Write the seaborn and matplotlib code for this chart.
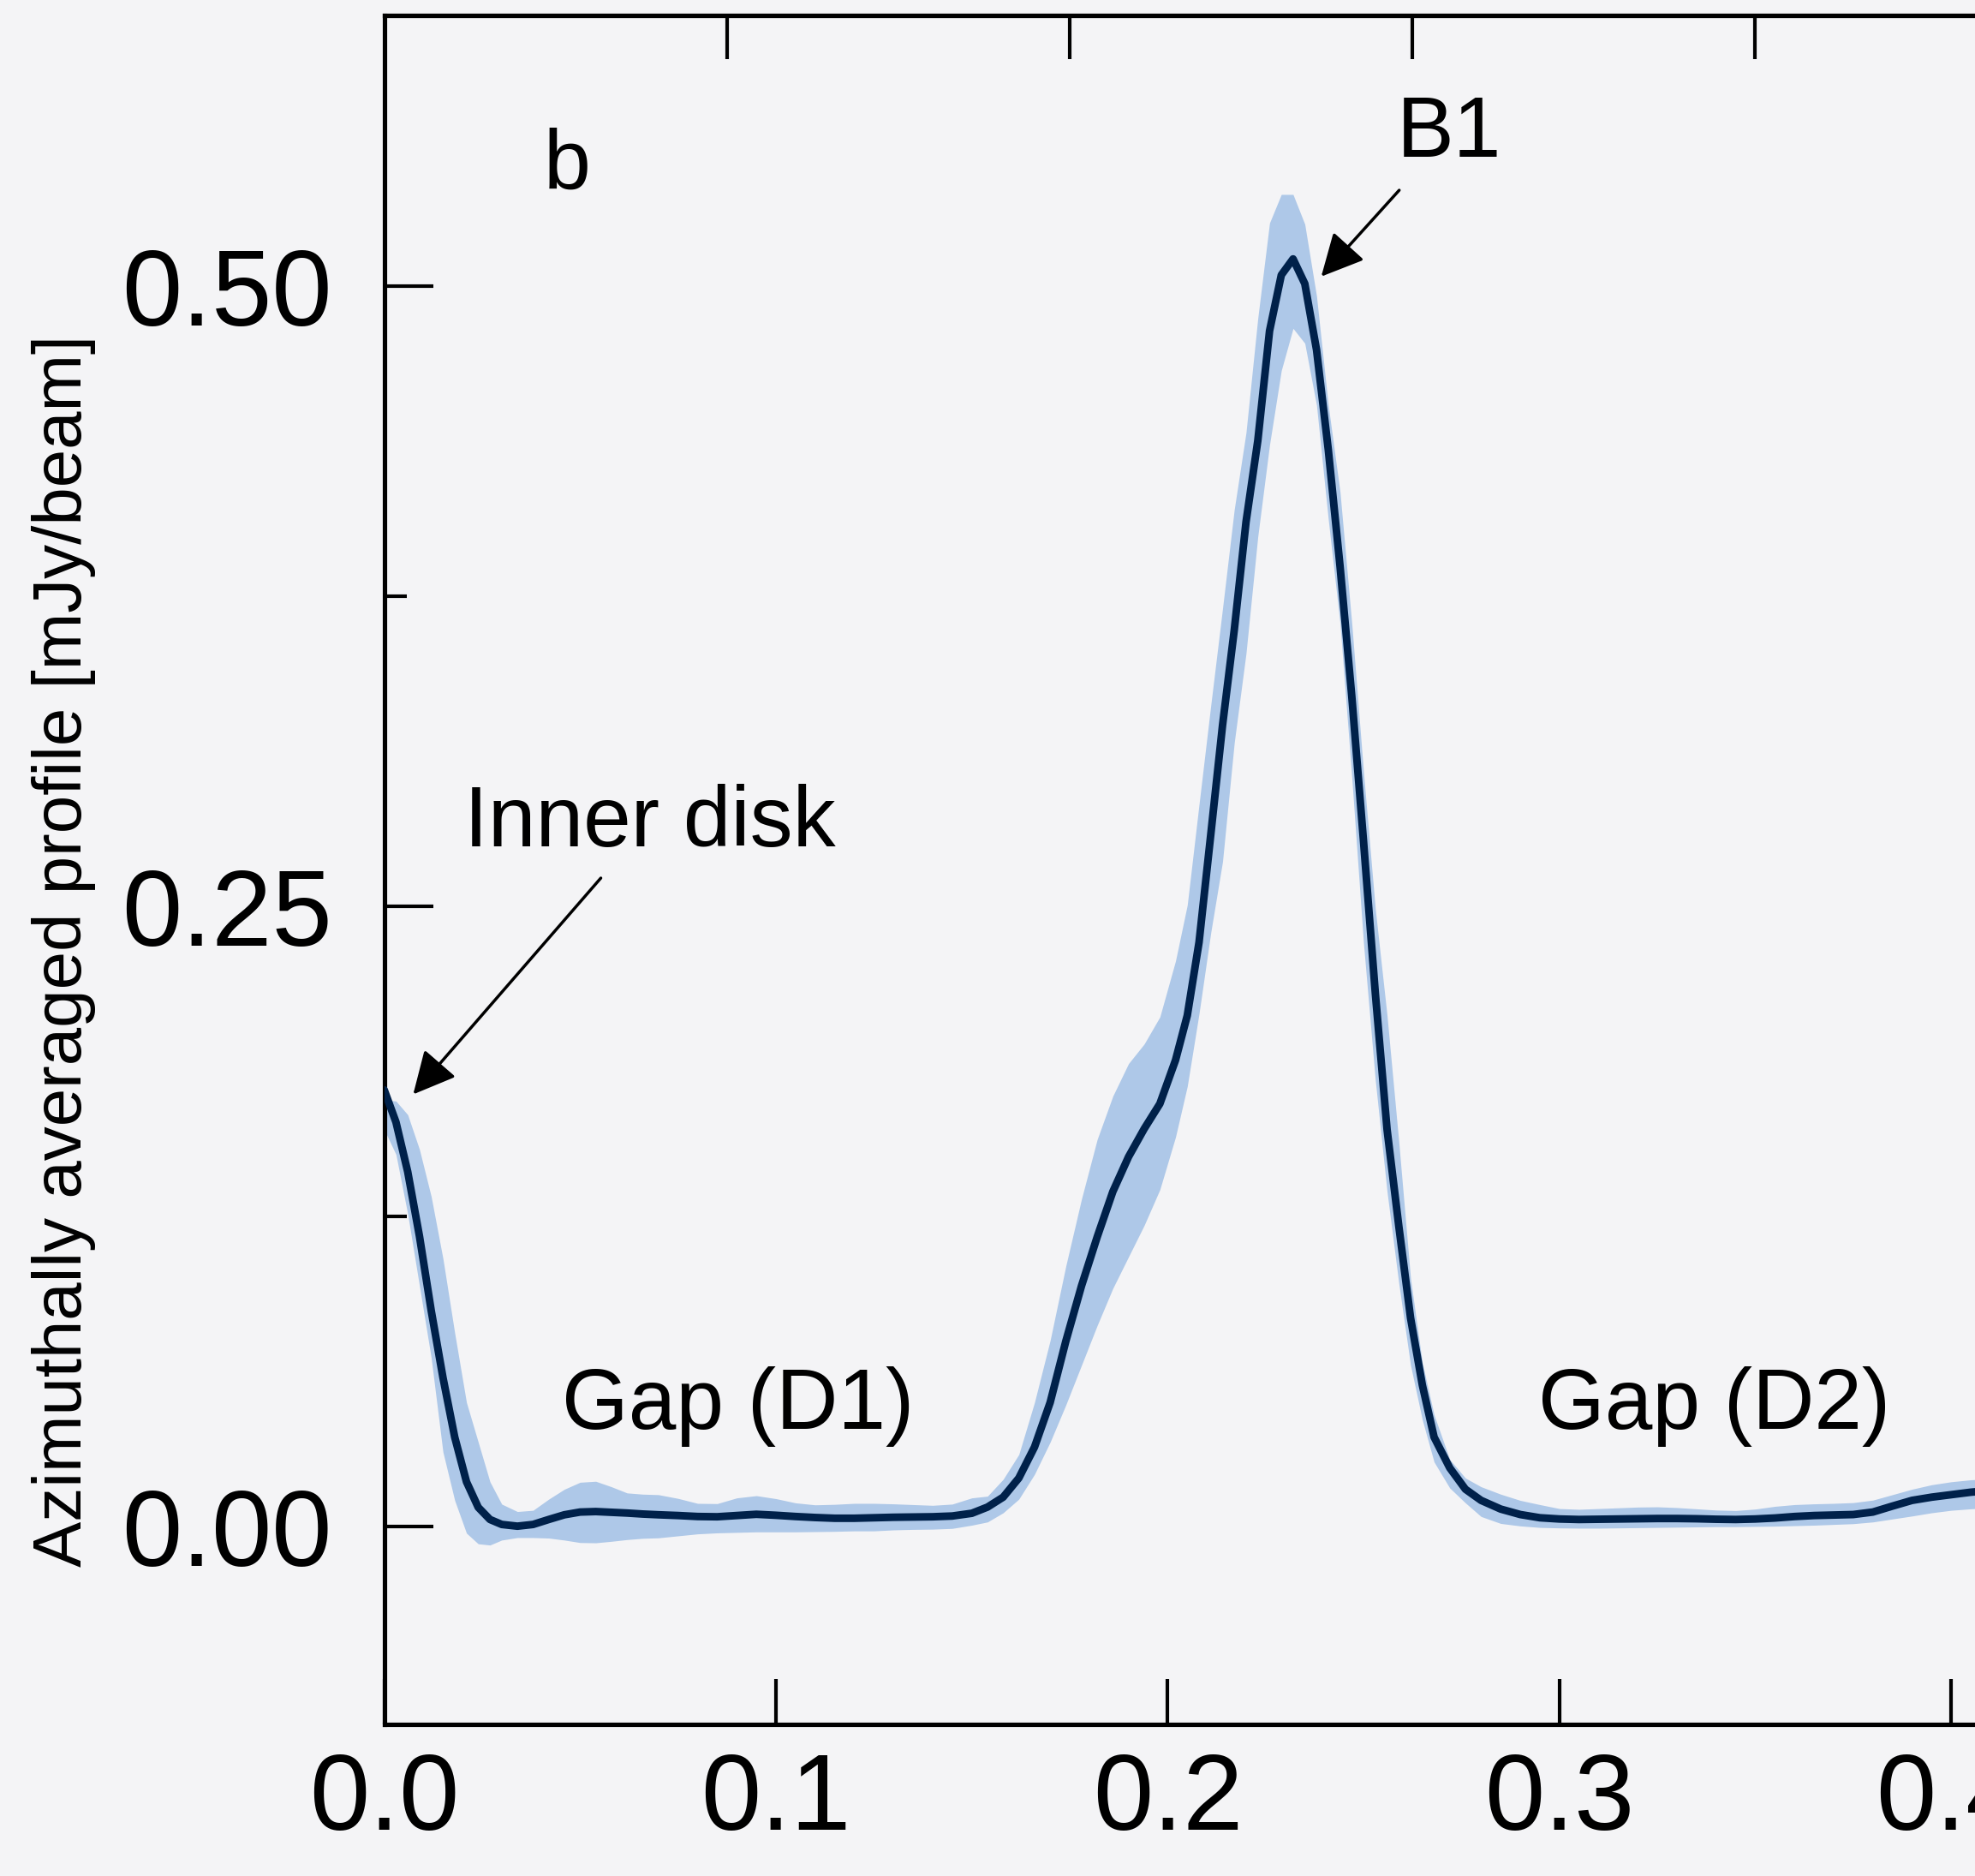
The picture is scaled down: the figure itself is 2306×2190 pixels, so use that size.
import matplotlib
matplotlib.use("Agg")
import matplotlib.pyplot as plt
from matplotlib.ticker import FixedLocator
import numpy as np
import pandas as pd
import seaborn as sns

# ---------------- data ----------------
radius = [
    0.000, 0.003, 0.006, 0.009, 0.012, 0.015, 0.018, 0.021, 0.024, 0.027, 0.030, 0.034, 0.038,
    0.042, 0.046, 0.050, 0.054, 0.058, 0.062, 0.066, 0.070, 0.075, 0.080, 0.085, 0.090, 0.095,
    0.100, 0.105, 0.110, 0.115, 0.120, 0.125, 0.130, 0.135, 0.140, 0.145, 0.150,
    0.154, 0.158, 0.162, 0.166, 0.170, 0.174, 0.178, 0.182, 0.186, 0.190, 0.194, 0.198, 0.202,
    0.205, 0.208, 0.211, 0.214, 0.217, 0.220, 0.223, 0.226, 0.229, 0.232, 0.235, 0.238, 0.241,
    0.244, 0.247, 0.250, 0.253, 0.256, 0.259, 0.262, 0.265, 0.268, 0.272, 0.276, 0.280, 0.285,
    0.290, 0.295, 0.300,
    0.305, 0.310, 0.315, 0.320, 0.325, 0.330, 0.335, 0.340, 0.345, 0.350, 0.355, 0.360, 0.365,
    0.370, 0.375, 0.380, 0.385, 0.390, 0.395, 0.400, 0.405, 0.410,
]

mean_profile = [
    0.176, 0.163, 0.143, 0.117, 0.087, 0.060, 0.036, 0.018, 0.0077, 0.0028, 0.0008, 0.0001, 0.0008,
    0.0028, 0.0047, 0.0058, 0.0060, 0.0057, 0.0054, 0.0050, 0.0047, 0.0044, 0.0040, 0.0039, 0.0044, 0.0049,
    0.0045, 0.0040, 0.0036, 0.0033, 0.0033, 0.0035, 0.0037, 0.0038, 0.0039, 0.0042, 0.0053,
    0.0078, 0.0118, 0.0195, 0.032, 0.050, 0.0747, 0.097, 0.1167, 0.135, 0.149, 0.1603, 0.1704, 0.188,
    0.206, 0.2355, 0.279, 0.323, 0.3615, 0.405, 0.4377, 0.482, 0.5045, 0.511, 0.501, 0.4743, 0.434,
    0.387, 0.3345, 0.276, 0.215, 0.160, 0.121, 0.084, 0.057, 0.036, 0.0236, 0.015, 0.0105, 0.007,
    0.0048, 0.0035, 0.0030,
    0.0028, 0.0029, 0.0030, 0.0031, 0.0032, 0.0032, 0.0031, 0.0029, 0.0028, 0.0030, 0.0034, 0.0040, 0.0044,
    0.0046, 0.0048, 0.0058, 0.0082, 0.0105, 0.0118, 0.0128, 0.0138, 0.0145,
]

upper_profile = [
    0.172, 0.1715, 0.166, 0.152, 0.133, 0.108, 0.078, 0.050, 0.034, 0.018, 0.009, 0.006, 0.0065,
    0.011, 0.015, 0.0178, 0.0182, 0.016, 0.0135, 0.013, 0.0128, 0.0113, 0.0093, 0.0092, 0.0115, 0.0124,
    0.0112, 0.0095, 0.0087, 0.0089, 0.0093, 0.0093, 0.0091, 0.0088, 0.0085, 0.0090, 0.0115,
    0.0122, 0.019, 0.029, 0.050, 0.075, 0.105, 0.132, 0.156, 0.1735, 0.1866, 0.1945, 0.2054, 0.228,
    0.2505, 0.291, 0.331, 0.370, 0.410, 0.441, 0.487, 0.5255, 0.537, 0.537, 0.525, 0.496, 0.452,
    0.417, 0.364, 0.304, 0.249, 0.206, 0.155, 0.100, 0.066, 0.045, 0.027, 0.0195, 0.016, 0.013,
    0.0105, 0.0088, 0.0072,
    0.0069, 0.0072, 0.0075, 0.0078, 0.0079, 0.0076, 0.0071, 0.0066, 0.0064, 0.0070, 0.0081, 0.0088, 0.0091,
    0.0093, 0.0096, 0.0106, 0.0128, 0.0150, 0.0168, 0.0180, 0.0188, 0.0192,
]

lower_profile = [
    0.160, 0.150, 0.126, 0.097, 0.068, 0.030, 0.0105, -0.0027, -0.007, -0.0075, -0.0055, -0.0045, -0.0045,
    -0.0047, -0.0055, -0.0065, -0.0066, -0.0060, -0.0053, -0.0048, -0.0046, -0.0038, -0.0030, -0.0026, -0.0024, -0.0022,
    -0.0022, -0.0022, -0.0021, -0.0020, -0.0018, -0.0018, -0.0014, -0.0012, -0.0011, -0.0008, 0.0005,
    0.0018, 0.0055, 0.011, 0.021, 0.034, 0.049, 0.065, 0.081, 0.096, 0.1087, 0.1214, 0.1358, 0.157,
    0.1774, 0.2067, 0.2394, 0.268, 0.316, 0.352, 0.399, 0.436, 0.466, 0.483, 0.477, 0.452, 0.406,
    0.364, 0.302, 0.235, 0.180, 0.135, 0.098, 0.065, 0.043, 0.026, 0.0155, 0.0095, 0.004, 0.0012,
    0.0002, -0.0004, -0.0006,
    -0.0007, -0.0007, -0.0006, -0.0005, -0.0004, -0.0003, -0.0002, -0.0001, -0.0001, 0.0000, 0.0001, 0.0003, 0.0005,
    0.0008, 0.0011, 0.0018, 0.0030, 0.0042, 0.0055, 0.0065, 0.0071, 0.0075,
]

x_ticks = [0.0, 0.1, 0.2, 0.3, 0.4]
x_tick_labels = ["0.0", "0.1", "0.2", "0.3", "0.4"]
y_ticks = [0.0, 0.25, 0.5]
y_tick_labels = ["0.00", "0.25", "0.50"]
y_minor_ticks = [0.125, 0.375]
au_ticks = [10, 20, 30, 40]
AU_PER_ARCSEC = 114.3

y_label = "Azimuthally averaged profile [mJy/beam]"
panel_label = "b"
region_labels = ["Inner disk", "B1", "Gap (D1)", "Gap (D2)"]
region_label_x = [0.0679, 0.2718, 0.0904, 0.3395]
region_label_y = [0.2742, 0.5521, 0.0394, 0.0394]
arrow_tails = [(0.0553, 0.2614), (0.2591, 0.5387)]
arrow_tips = [(0.0074, 0.1742), (0.2392, 0.5039)]

# ---------------- style ----------------
BG = "#f4f4f6"
FILL = "#aec8e8"
LINE = "#00214a"

sns.set_theme(style="ticks")
plt.rcParams["font.family"] = ["Liberation Sans", "DejaVu Sans"]
plt.rcParams["axes.facecolor"] = BG
plt.rcParams["figure.facecolor"] = BG

W, H = 2306, 2190
fig = plt.figure(figsize=(W / 100, H / 100), dpi=100)
fig.patch.set_facecolor(BG)

ax_left_px, px_per_unit = 448.6, 4574.0
ax_bottom_px, ax_top_px = 2013.0, 17.6
xmax = 0.45
ax = fig.add_axes([ax_left_px / W, (H - ax_bottom_px) / H,
                   xmax * px_per_unit / W, (ax_bottom_px - ax_top_px) / H])
ax.set_facecolor(BG)

df = pd.DataFrame({"radius": radius, "mean": mean_profile,
                   "lo": lower_profile, "hi": upper_profile})

ax.fill_between(df["radius"], df["lo"], df["hi"], color=FILL, linewidth=0, zorder=1)
sns.lineplot(data=df, x="radius", y="mean", ax=ax, color=LINE, linewidth=6.4,
             estimator=None, sort=False, zorder=3)

ax.set_xlim(0, xmax)
ax.set_ylim(-0.0798, 0.6093)
ax.set_xlabel("")
ax.set_ylabel("")

ax.set_xticks(x_ticks)
ax.set_xticklabels(x_tick_labels)
ax.set_yticks(y_ticks)
ax.set_yticklabels(y_tick_labels)
ax.yaxis.set_minor_locator(FixedLocator(y_minor_ticks))

for s in ["left", "bottom", "top", "right"]:
    ax.spines[s].set_linewidth(3.7)
    ax.spines[s].set_color("black")

ax.tick_params(axis="x", which="major", direction="in", length=38, width=3.0,
               labelsize=91, pad=22, top=False, bottom=True, colors="black")
ax.tick_params(axis="y", which="major", direction="in", length=41, width=3.0,
               labelsize=91, pad=44, right=False, left=True, colors="black")
ax.tick_params(axis="y", which="minor", direction="in", length=18.5, width=3.0,
               right=False, left=True, colors="black")

sec = ax.secondary_xaxis("top", functions=(lambda x: x * AU_PER_ARCSEC,
                                           lambda a: a / AU_PER_ARCSEC))
sec.set_xticks(au_ticks)
sec.tick_params(axis="x", direction="in", length=37, width=3.0, labeltop=False,
                colors="black")
sec.spines["top"].set_linewidth(3.7)

fig.text(75 / W, (H - 1110) / H, y_label, rotation=90, ha="center", va="center",
         fontsize=57.5, color="black")

ax.text(0.0466, 0.5397, panel_label, ha="center", va="baseline", fontsize=71, color="black")
for lab, lx, ly in zip(region_labels, region_label_x, region_label_y):
    ax.text(lx, ly, lab, ha="center", va="baseline", fontsize=72, color="black")

for tail, tip in zip(arrow_tails, arrow_tips):
    ax.annotate("", xy=tip, xytext=tail,
                arrowprops=dict(arrowstyle="-|>,head_length=0.4,head_width=0.2",
                                mutation_scale=76, lw=2.5, color="black",
                                shrinkA=0, shrinkB=0))

fig.savefig("out.png", dpi=100, facecolor=BG)
